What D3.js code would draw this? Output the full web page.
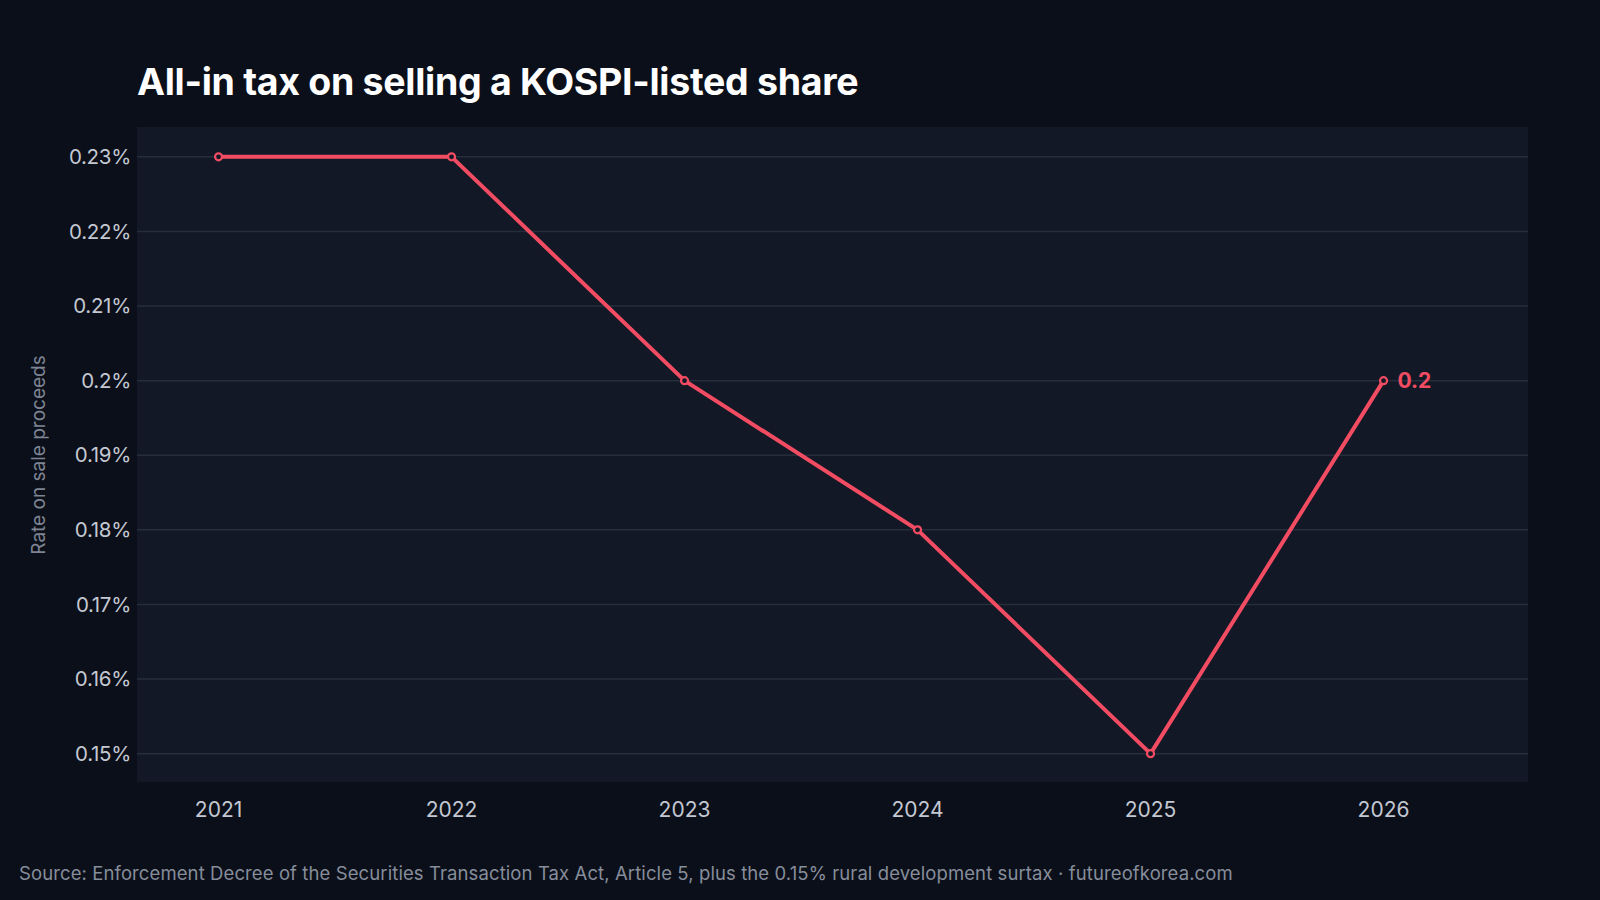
<!DOCTYPE html>
<html><head><meta charset="utf-8">
<script src="https://cdn.jsdelivr.net/npm/d3@7"></script>
<style>html,body{margin:0;background:#0b0f19;}svg{display:block;}</style>
</head><body>
<svg id="c" width="1600" height="900"></svg>
<script>
const years = [2021, 2022, 2023, 2024, 2025, 2026];
const rates = [0.23, 0.23, 0.20, 0.18, 0.15, 0.20];
const yTicks = [0.15, 0.16, 0.17, 0.18, 0.19, 0.20, 0.21, 0.22, 0.23];
const yTickLabels = ["0.15%","0.16%","0.17%","0.18%","0.19%","0.2%","0.21%","0.22%","0.23%"];
const font = "Inter, 'Noto Sans', sans-serif";
const red = "#f24c63";
const svg = d3.select("#c");
const L = 137, R = 1528, T = 127, B = 782;
svg.append("rect").attr("width",1600).attr("height",900).attr("fill","#0b0f19");
svg.append("rect").attr("x",L).attr("y",T).attr("width",R-L).attr("height",B-T).attr("fill","#121825");
const x = d3.scaleLinear().domain([2020.65, 2026.62]).range([L, R]);
const y = d3.scaleLinear().domain([0.1462, 0.2340]).range([B, T]);
const g = svg.append("g");
yTicks.forEach((t,i)=>{
  g.append("line").attr("x1",L).attr("x2",R).attr("y1",y(t)).attr("y2",y(t)).attr("stroke","#262d3b").attr("stroke-width",1.5);
  g.append("text").attr("x",L-6).attr("y",y(t)).attr("dy","0.35em").attr("text-anchor","end")
    .attr("fill","#c3c8d2").attr("font-family",font).attr("font-size",20.5).attr("letter-spacing","-0.3").text(yTickLabels[i]);
});
years.forEach(yr=>{
  g.append("text").attr("x",x(yr)).attr("y",817).attr("text-anchor","middle")
   .attr("fill","#c3c8d2").attr("font-family",font).attr("font-size",21).text(yr);
});
const data = years.map((yr,i)=>({yr, v:rates[i]}));
svg.append("path").datum(data).attr("fill","none").attr("stroke",red).attr("stroke-width",4)
  .attr("stroke-linejoin","round")
  .attr("d", d3.line().x(d=>x(d.yr)).y(d=>y(d.v)));
svg.selectAll("circle.p").data(data).join("circle").attr("cx",d=>x(d.yr)).attr("cy",d=>y(d.v))
  .attr("r",3.5).attr("fill","#121825").attr("stroke",red).attr("stroke-width",2.2);
const last = data[data.length-1];
svg.append("text").attr("x",x(last.yr)+14).attr("y",y(last.v)).attr("dy","0.35em")
  .attr("fill",red).attr("font-family",font).attr("font-weight",700).attr("font-size",21).text(String(last.v));
svg.append("text").attr("x",137).attr("y",95).attr("fill","#ffffff").attr("font-family",font)
  .attr("font-weight",700).attr("font-size",37.5).attr("letter-spacing","-0.3").text("All-in tax on selling a KOSPI-listed share");
svg.append("text").attr("transform","translate(45,455) rotate(-90)").attr("text-anchor","middle")
  .attr("fill","#7d8493").attr("font-family",font).attr("font-size",19).text("Rate on sale proceeds");
svg.append("text").attr("x",19).attr("y",880).attr("fill","#868d9b").attr("font-family",font).attr("font-size",18.5)
  .attr("letter-spacing","0.1")
  .text("Source: Enforcement Decree of the Securities Transaction Tax Act, Article 5, plus the 0.15% rural development surtax   ·   futureofkorea.com");
</script>
</body></html>
